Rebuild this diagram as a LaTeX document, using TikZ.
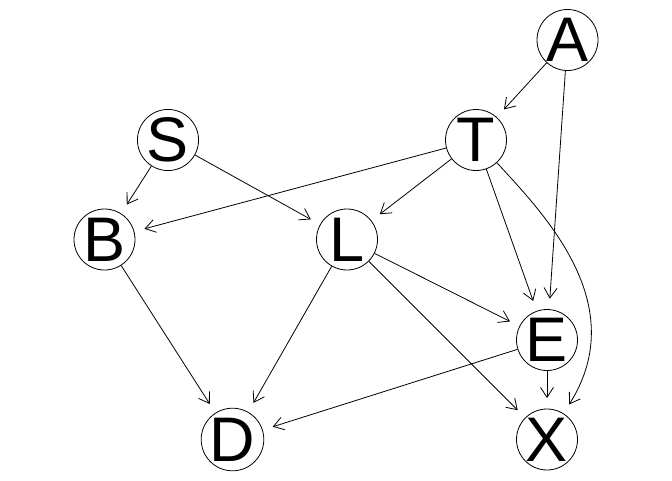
\documentclass[tikz,border=0pt]{standalone}
\usepackage{fontspec}
\setmainfont{Liberation Sans}
\usetikzlibrary{arrows.meta}
\begin{document}
\begin{tikzpicture}[x=1pt,y=-1pt,
  var/.style={draw, circle, line width=0.8pt, inner sep=0pt, minimum size=61pt,
    font=\fontsize{63}{63}\selectfont},
  edge/.style={draw, line width=0.8pt, shorten >=10.5pt,
    -{Straight Barb[length=10pt,width=13pt,line width=0.8pt]}}]
\useasboundingbox (0,0) rectangle (672,480);
% variables
\node[var] (A) at (567.5,40) {A};
\node[var] (T) at (476,140) {T};
\node[var] (S) at (168,140) {S};
\node[var] (B) at (104.5,239.5) {B};
\node[var] (L) at (347,239.5) {L};
\node[var] (E) at (547,340) {E};
\node[var] (D) at (232.5,439.5) {D};
\node[var] (X) at (547,439.5) {X};
% arcs
\draw[edge] (A) -- (T);
\draw[edge] (A) -- (E);
\draw[edge] (T) -- (B);
\draw[edge] (T) -- (L);
\draw[edge] (T) -- (E);
\draw[edge] (T) .. controls (545,215) and (632,305) .. (X);
\draw[edge] (S) -- (B);
\draw[edge] (S) -- (L);
\draw[edge] (B) -- (D);
\draw[edge] (L) -- (D);
\draw[edge] (L) -- (E);
\draw[edge] (L) -- (X);
\draw[edge] (E) -- (D);
\draw[edge] (E) -- (X);
\end{tikzpicture}
\end{document}
